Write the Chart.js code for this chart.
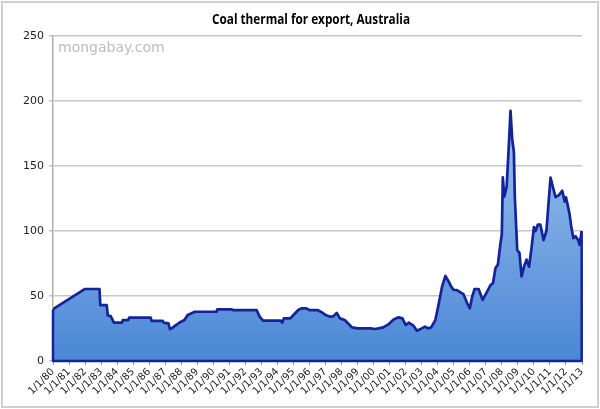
<!DOCTYPE html>
<html>
<head>
<meta charset="utf-8">
<script src="https://cdn.jsdelivr.net/npm/chart.js@4"></script>
<style>
html,body{margin:0;padding:0;background:#fff;}
#wrap{position:relative;width:600px;height:409px;}
</style>
</head>
<body>
<div id="wrap"><canvas id="c" width="600" height="409"></canvas></div>
<script>
const chartTitle = 'Coal thermal for export, Australia';
const watermark = 'mongabay.com';
const tickLabels = ['1/1/80','1/1/81','1/1/82','1/1/83','1/1/84','1/1/85','1/1/86','1/1/87','1/1/88','1/1/89',
  '1/1/90','1/1/91','1/1/92','1/1/93','1/1/94','1/1/95','1/1/96','1/1/97','1/1/98','1/1/99',
  '1/1/00','1/1/01','1/1/02','1/1/03','1/1/04','1/1/05','1/1/06','1/1/07','1/1/08','1/1/09',
  '1/1/10','1/1/11','1/1/12','1/1/13'];
const yTicks = [0, 50, 100, 150, 200, 250];
// decimal year of each reading
const dates = [
  1980.0, 1980.15, 1982.0, 1982.9, 1982.95, 1983.35, 1983.42, 1983.6, 1983.8, 1984.3,
  1984.35, 1984.7, 1984.75, 1986.1, 1986.15, 1986.85, 1986.9, 1987.2, 1987.3, 1987.45,
  1987.6, 1987.9, 1988.2, 1988.4, 1988.85, 1990.2, 1990.25, 1991.15, 1991.2, 1992.7,
  1992.9, 1993.1, 1994.2, 1994.3, 1994.4, 1994.8, 1995.0, 1995.3, 1995.5, 1995.8,
  1996.0, 1996.5, 1996.7, 1997.0, 1997.3, 1997.5, 1997.7, 1997.9, 1998.2, 1998.4,
  1998.65, 1999.0, 1999.8, 2000.1, 2000.6, 2000.95, 2001.25, 2001.55, 2001.8, 2002.0,
  2002.2, 2002.5, 2002.7, 2003.0, 2003.2, 2003.4, 2003.6, 2003.85, 2004.07, 2004.27,
  2004.48, 2004.69, 2004.84, 2005.0, 2005.2, 2005.4, 2005.6, 2005.84, 2006.0, 2006.15,
  2006.3, 2006.55, 2006.8, 2007.0, 2007.3, 2007.45, 2007.6, 2007.75, 2007.9, 2008.0,
  2008.06, 2008.15, 2008.3, 2008.44, 2008.54, 2008.65, 2008.75, 2008.81, 2008.96, 2009.1,
  2009.23, 2009.38, 2009.54, 2009.7, 2009.86, 2010.0, 2010.1, 2010.25, 2010.4, 2010.6,
  2010.78, 2010.94, 2011.04, 2011.18, 2011.35, 2011.56, 2011.77, 2011.92, 2012.0, 2012.15,
  2012.23, 2012.33, 2012.46, 2012.6, 2012.75, 2012.85, 2012.98
];
// price (US$/tonne)
const values = [
  39.7, 41, 55.4, 55.4, 43, 43, 35, 34.5, 29.5, 29.5,
  31.5, 31.5, 33.3, 33.3, 30.8, 30.8, 29.5, 29, 24.5, 25.5,
  27, 29.6, 31.5, 35.4, 37.9, 37.9, 39.7, 39.7, 39.2, 39.2,
  34, 31, 31, 29.5, 32.8, 32.8, 35.4, 39.2, 40.5, 40.5,
  39.2, 39.2, 37.9, 35.4, 34, 34.5, 37, 32.8, 31.5, 29,
  25.9, 25.1, 25.1, 24.6, 25.9, 28.4, 32, 33.6, 32.8, 27.7,
  29.5, 27, 23.3, 25.1, 26.4, 25.1, 26, 31.5, 44.4, 57.2,
  65.4, 61, 57.2, 54.6, 54.6, 53, 51.5, 44.4, 40.6, 49.5,
  55.4, 55.4, 47, 51.5, 58.5, 60, 71.3, 74, 89.2, 97.7,
  141.3, 126.4, 134, 167, 192.5, 170, 161, 126, 85.4, 83,
  65, 72.6, 78, 72.6, 88, 103, 100, 105, 105, 93,
  100, 126, 141, 134, 126, 127.6, 131, 122.6, 125.9, 117.5,
  112.4, 103.5, 94.5, 96, 93.3, 89.4, 100
];

const LINE = '#13249b';

const framePlugin = {
  id: 'frame',
  beforeDraw(chart) {
    const ctx = chart.ctx;
    ctx.save();
    ctx.fillStyle = '#fff';
    ctx.fillRect(0, 0, chart.width, chart.height);
    ctx.strokeStyle = '#cfcfcf';
    ctx.lineWidth = 2;
    ctx.strokeRect(2, 2, chart.width - 4, chart.height - 4);
    ctx.restore();
  },
  afterDraw(chart) {
    const ctx = chart.ctx, a = chart.chartArea;
    ctx.save();
    ctx.fillStyle = '#000';
    ctx.font = 'bold 15px "Open Sans", sans-serif';
    ctx.textAlign = 'center';
    ctx.textBaseline = 'middle';
    const w = ctx.measureText(chartTitle).width;
    const sx = Math.min(1, 198 / w);
    ctx.translate(311, 20);
    ctx.scale(sx, 1);
    ctx.fillText(chartTitle, 0, 0);
    ctx.setTransform(1, 0, 0, 1, 0, 0);
    ctx.fillStyle = '#bdbdbd';
    ctx.font = '14px "DejaVu Sans", sans-serif';
    ctx.textAlign = 'left';
    ctx.fillText(watermark, a.left + 5, a.top + 12);
    ctx.restore();
  }
};

const outlinePlugin = {
  id: 'outline',
  afterDatasetsDraw(chart) {
    const pts = chart.getDatasetMeta(0).data;
    if (!pts.length) return;
    const y0 = chart.scales.y.getPixelForValue(0);
    const ctx = chart.ctx, first = pts[0], last = pts[pts.length - 1];
    ctx.save();
    ctx.strokeStyle = LINE;
    ctx.lineWidth = 2.5;
    ctx.lineJoin = 'round';
    ctx.beginPath();
    ctx.moveTo(last.x, last.y);
    ctx.lineTo(last.x, y0);
    ctx.lineTo(first.x, y0);
    ctx.lineTo(first.x, first.y);
    ctx.stroke();
    ctx.restore();
  }
};

new Chart(document.getElementById('c'), {
  type: 'line',
  data: {
    datasets: [{
      data: dates.map((d, i) => ({ x: d, y: values[i] })),
      borderColor: LINE,
      borderWidth: 2.7,
      borderJoinStyle: 'round',
      pointRadius: 0,
      tension: 0,
      fill: 'origin',
      backgroundColor(ctx) {
        const a = ctx.chart.chartArea;
        if (!a) return '#6a9fe0';
        const g = ctx.chart.ctx.createLinearGradient(0, a.top, 0, a.bottom);
        g.addColorStop(0, '#b6d4f5');
        g.addColorStop(1, '#4b87d6');
        return g;
      }
    }]
  },
  options: {
    responsive: false,
    animation: false,
    devicePixelRatio: 1,
    layout: { padding: { top: 36, right: 18, bottom: 0, left: 0 } },
    plugins: { legend: { display: false }, tooltip: { enabled: false }, title: { display: false } },
    scales: {
      x: {
        type: 'linear',
        min: 1980, max: 2013,
        afterFit(s) { s.height = 48; },
        afterBuildTicks(s) { s.ticks = tickLabels.map((t, i) => ({ value: 1980 + i })); },
        ticks: {
          autoSkip: false, maxRotation: 45, minRotation: 45,
          color: '#222', font: { size: 10, family: '"DejaVu Sans", sans-serif' },
          padding: 1,
          callback(v) { return tickLabels[Math.round(v - 1980)]; }
        },
        grid: { drawOnChartArea: false, drawTicks: true, tickLength: 4, color: '#9a9a9a' },
        border: { color: LINE, width: 0 }
      },
      y: {
        min: 0, max: 250,
        afterFit(s) { s.width = 53; },
        afterBuildTicks(s) { s.ticks = yTicks.map(v => ({ value: v })); },
        ticks: { color: '#222', font: { size: 11, family: '"DejaVu Sans", sans-serif' }, padding: 5 },
        grid: { color: '#c8c8c8', lineWidth: 1.5, tickLength: 4 },
        border: { color: '#b0b0b0', width: 1.5 }
      }
    }
  },
  plugins: [framePlugin, outlinePlugin]
});
</script>
</body>
</html>
